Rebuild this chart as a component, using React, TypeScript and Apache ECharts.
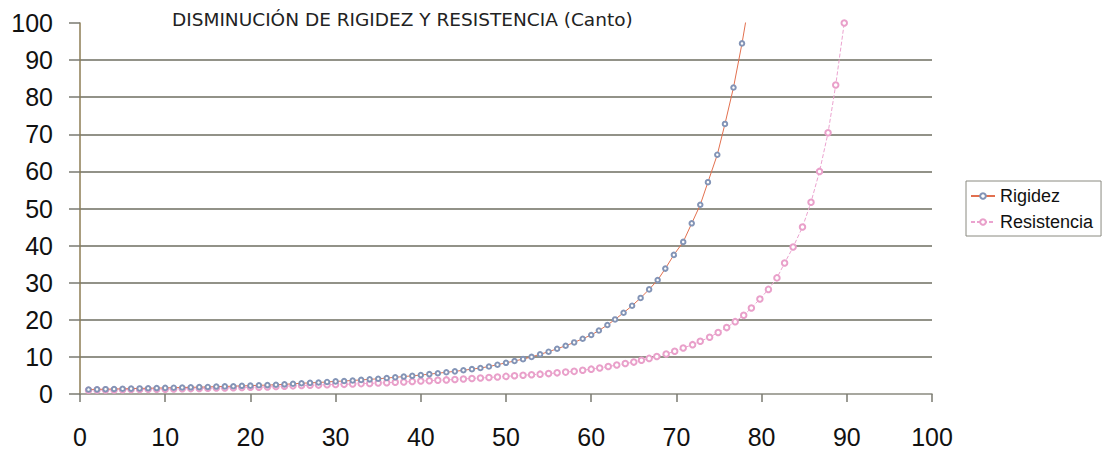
import React, { useEffect, useRef } from "react";
import * as echarts from "echarts";

const titleText = "DISMINUCIÓN DE RIGIDEZ Y RESISTENCIA (Canto)";
const seriesNames = ["Rigidez", "Resistencia"];
const xTicks = { min: 0, max: 100, interval: 10 };
const yTicks = { min: 0, max: 100, interval: 10 };

const rigidez: [number, number][] = [
  [1, 1.2], [2, 1.25], [3, 1.3], [4, 1.35], [5, 1.4], [6, 1.45], [7, 1.5], [8, 1.55], [9, 1.6], [10, 1.65],
  [11, 1.7], [12, 1.75], [13, 1.8], [14, 1.85], [15, 1.9], [16, 2.0], [17, 2.05], [18, 2.1], [19, 2.2], [20, 2.25],
  [21, 2.35], [22, 2.4], [23, 2.5], [24, 2.6], [25, 2.75], [26, 2.9], [27, 3.0], [28, 3.1], [29, 3.25], [30, 3.4],
  [31, 3.5], [32, 3.65], [33, 3.8], [34, 3.95], [35, 4.1], [36, 4.3], [37, 4.5], [38, 4.7], [39, 4.9], [40, 5.1],
  [41, 5.35], [42, 5.6], [43, 5.85], [44, 6.1], [45, 6.4], [46, 6.7], [47, 7.0], [48, 7.4], [49, 7.9], [50, 8.4],
  [51, 8.9], [52, 9.4], [53, 10.0], [54, 10.7], [55, 11.4], [56, 12.2], [57, 13.0], [58, 13.9], [59, 14.9], [60, 15.9],
  [60.9, 17.1], [61.9, 18.6], [62.8, 20.1], [63.8, 21.9], [64.8, 23.8], [65.8, 25.9], [66.8, 28.2], [67.8, 30.7],
  [68.7, 33.8], [69.7, 37.5], [70.8, 41], [71.8, 46], [72.8, 51], [73.7, 57.1], [74.8, 64.5], [75.7, 72.8],
  [76.7, 82.6], [77.7, 94.5], [78.7, 108],
];

const resistencia: [number, number][] = [
  [1, 1.0], [2, 1.05], [3, 1.1], [4, 1.1], [5, 1.15], [6, 1.2], [7, 1.2], [8, 1.25], [9, 1.3], [10, 1.3],
  [11, 1.35], [12, 1.4], [13, 1.45], [14, 1.5], [15, 1.55], [16, 1.6], [17, 1.65], [18, 1.7], [19, 1.75], [20, 1.8],
  [21, 1.85], [22, 1.9], [23, 2.0], [24, 2.1], [25, 2.2], [26, 2.3], [27, 2.35], [28, 2.4], [29, 2.5], [30, 2.55],
  [31, 2.6], [32, 2.7], [33, 2.8], [34, 2.85], [35, 2.95], [36, 3.05], [37, 3.15], [38, 3.25], [39, 3.35], [40, 3.5],
  [41, 3.6], [42, 3.7], [43, 3.8], [44, 3.9], [45, 4.05], [46, 4.2], [47, 4.3], [48, 4.45], [49, 4.6], [50, 4.75],
  [51, 4.9], [52, 5.05], [53, 5.2], [54, 5.35], [55, 5.5], [56, 5.7], [57, 5.9], [58, 6.1], [59, 6.4], [60, 6.7],
  [61, 7.0], [62, 7.4], [63, 7.8], [64, 8.2], [65, 8.6], [65.9, 9.1], [66.8, 9.6], [67.7, 10.1], [68.8, 10.8],
  [69.8, 11.5], [70.8, 12.4], [71.9, 13.3], [72.8, 14.2], [73.9, 15.3], [74.9, 16.6], [75.9, 17.9], [76.9, 19.5],
  [77.9, 21.2], [78.8, 23.2], [79.8, 25.6], [80.8, 28.2], [81.8, 31.3], [82.7, 35.3], [83.7, 39.6], [84.8, 45],
  [85.8, 51.7], [86.8, 60], [87.8, 70.4], [88.7, 83.3], [89.7, 100],
];

export default function App() {
  const ref = useRef<HTMLDivElement>(null);
  useEffect(() => {
    if (!ref.current) return;
    const chart = echarts.init(ref.current, undefined, { renderer: "svg" });
    const labelFont = { fontFamily: "Liberation Sans", fontSize: 25, color: "#111" };
    chart.setOption({
      animation: false,
      backgroundColor: "#fff",
      title: {
        text: titleText,
        left: 164,
        top: 2,
        padding: 0,
        textStyle: { fontFamily: "DejaVu Sans", fontSize: 18.5, fontWeight: "normal", color: "#222" },
      },
      legend: {
        orient: "vertical",
        left: 958,
        top: 173,
        padding: [6, 8, 5, 4],
        itemGap: 8,
        itemWidth: 24,
        itemHeight: 7,
        borderColor: "#8a8a80",
        borderWidth: 1,
        textStyle: { fontFamily: "Liberation Sans", fontSize: 18, color: "#111" },
        data: seriesNames,
      },
      grid: { left: 72, right: 173, top: 15, bottom: 48, containLabel: false },
      xAxis: {
        type: "value",
        min: xTicks.min,
        max: xTicks.max,
        interval: xTicks.interval,
        axisLine: { show: true, onZero: false, lineStyle: { color: "#8a8a80", width: 1.5 } },
        axisTick: { show: true, inside: false, length: 8, lineStyle: { color: "#7a7a70", width: 1.5 } },
        axisLabel: { ...labelFont, margin: 30 },
        splitLine: { show: false },
      },
      yAxis: {
        type: "value",
        min: yTicks.min,
        max: yTicks.max,
        interval: yTicks.interval,
        axisLine: { show: true, lineStyle: { color: "#8c7c55", width: 1.5 } },
        axisTick: { show: true, length: 11, lineStyle: { color: "#7a7a70", width: 1.5 } },
        axisLabel: { ...labelFont, margin: 27 },
        splitLine: {
          show: true,
          showMinLine: false,
          showMaxLine: false,
          lineStyle: { color: "#6e6e60", width: 1.5 },
        },
      },
      series: [
        {
          name: seriesNames[0],
          type: "line",
          data: rigidez,
          symbol: "emptyCircle",
          symbolSize: 4.5,
          clip: true,
          lineStyle: { color: "#e2704f", width: 1 },
          itemStyle: { color: "#8394b6", borderWidth: 1 },
          z: 3,
        },
        {
          name: seriesNames[1],
          type: "line",
          data: resistencia,
          symbol: "emptyCircle",
          symbolSize: 5.5,
          clip: true,
          lineStyle: { color: "#eba3cf", width: 1, type: [4, 2] },
          itemStyle: { color: "#e9a0ca", borderWidth: 1 },
          z: 2,
        },
      ],
    });
    return () => chart.dispose();
  }, []);
  return <div ref={ref} style={{ width: 1097, height: 441 }} />;
}
